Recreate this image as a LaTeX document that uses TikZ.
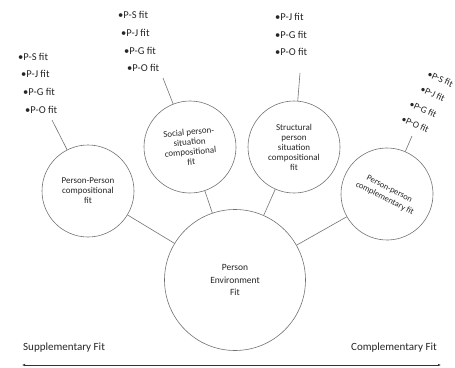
\documentclass[tikz,border=0pt]{standalone}
\usepackage{fontspec}
\setmainfont{Carlito}
\usetikzlibrary{arrows.meta}
\begin{document}
\begin{tikzpicture}[x=1pt,y=-1pt,
  circ/.style={circle,draw=black!55,line width=0.6pt,minimum size=92pt,inner sep=0pt,align=center,text=black!85,font=\fontsize{9}{10}\selectfont},
  conn/.style={draw=black!55,line width=0.6pt},
  bul/.style={anchor=west,inner sep=0pt,text=black!85,font=\fontsize{10.5}{12}\selectfont},
  rbul/.style={bul,rotate=-25,font=\fontsize{9.5}{11}\selectfont},
  lab/.style={inner sep=0pt,text=black!85,font=\fontsize{11}{13}\selectfont}]
\fill[white] (0,0) rectangle (455,367);
\useasboundingbox (0,0) rectangle (455,367);
% circles
\node[circ] (pp) at (88,191) {Person-Person\\compositional\\fit};
\node[circ,rotate=5] (sp) at (190,147) {Social person-\\situation\\compositional\\fit};
\node[circ] (st) at (294,147) {Structural\\person\\situation\\compositional\\fit};
\node[circ,rotate=-27,font=\fontsize{8.5}{10.5}\selectfont] (pc) at (387,194) {Person-person\\complementary fit};
\node[circ,minimum size=141pt,font=\fontsize{9.5}{12.5}\selectfont] (pe) at (235,280) {Person\\Environment\\Fit};
% connectors to centre
\draw[conn] (pp) -- (pe);
\draw[conn] (sp) -- (pe);
\draw[conn] (st) -- (pe);
\draw[conn] (pc) -- (pe);
% bullet lists
\node[bul] (l1) at (18,57) {•P-S fit};
\node[bul] (l2) at (21,74) {•P-J fit};
\node[bul] (l3) at (23,92) {•P-G fit};
\node[bul] (l4) at (25,110) {•P-O fit};
\node[bul] (s1) at (118,15) {•P-S fit};
\node[bul] (s2) at (121,33) {•P-J fit};
\node[bul] (s3) at (124,51) {•P-G fit};
\node[bul] (s4) at (127,68) {•P-O fit};
\node[bul] (t1) at (275,17) {•P-J fit};
\node[bul] (t2) at (275,35) {•P-G fit};
\node[bul] (t3) at (275,52) {•P-O fit};
\node[rbul] (r1) at (428,73) {•P-S fit};
\node[rbul] (r2) at (421,88) {•P-J fit};
\node[rbul] (r3) at (410,103) {•P-G fit};
\node[rbul] (r4) at (402,118) {•P-O fit};
% list connectors
\coordinate (ppt) at (52,120);
\coordinate (spt) at (163,78);
\coordinate (stt) at (300,73);
\coordinate (pct) at (412,136);
\draw[conn] (ppt) -- (pp);
\draw[conn] (spt) -- (sp);
\draw[conn] (stt) -- (st);
\draw[conn] (pct) -- (pc);
% axis
\node[lab,anchor=west] (sup) at (23,348) {Supplementary Fit};
\node[lab,anchor=east] (com) at (437,348) {Complementary Fit};
\coordinate (al) at (22,365);
\coordinate (ar) at (441,365);
\draw[draw=black!80,line width=0.6pt,{Latex[length=3pt,width=2.5pt]}-{Latex[length=3pt,width=2.5pt]}] (al) -- (ar);
\end{tikzpicture}
\end{document}
